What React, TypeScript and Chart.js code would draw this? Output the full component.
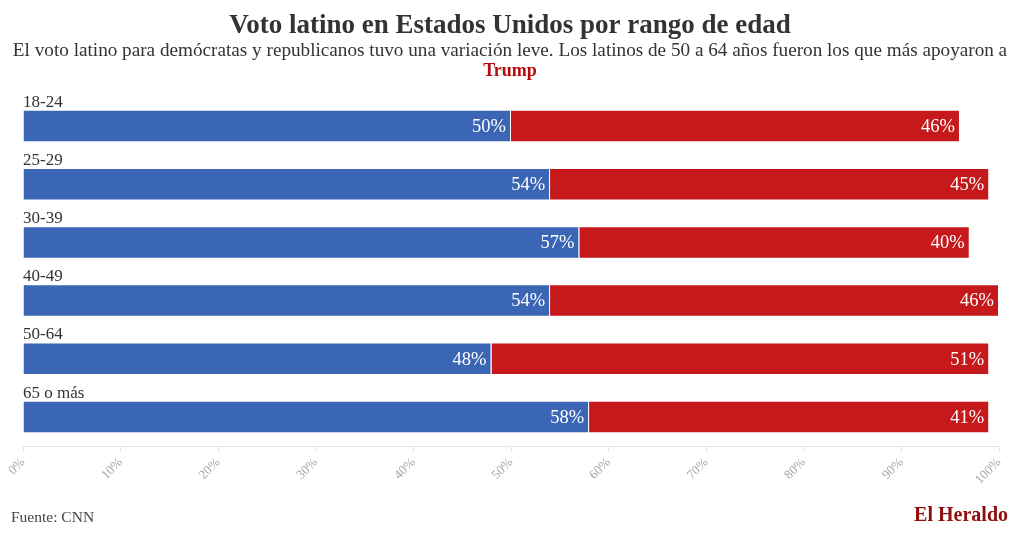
import React, { useEffect, useRef } from "react";
import { Chart, registerables } from "chart.js";

Chart.register(...registerables);

const categories = ["18-24", "25-29", "30-39", "40-49", "50-64", "65 o más"];
const democratas = [50, 54, 57, 54, 48, 58];
const republicanos = [46, 45, 40, 46, 51, 41];
const xTickValues = [0, 10, 20, 30, 40, 50, 60, 70, 80, 90, 100];

const titleText = "Voto latino en Estados Unidos por rango de edad";
const subtitleLine1 =
  "El voto latino para demócratas y republicanos tuvo una variación leve. Los latinos de 50 a 64 años fueron los que más apoyaron a";
const subtitleLine2 = "Trump";
const sourceText = "Fuente: CNN";
const brandText = "El Heraldo";

const FONT = "'Liberation Serif', 'DejaVu Serif', serif";
const BLUE = "#3b66b6";
const RED = "#c5191b";

const textPlugin = {
  id: "textPlugin",
  afterDraw(chart: any) {
    const ctx = chart.ctx as CanvasRenderingContext2D;
    const W = chart.width;
    ctx.save();
    ctx.textBaseline = "alphabetic";
    // title
    ctx.fillStyle = "#333333";
    ctx.textAlign = "center";
    ctx.font = `bold 27px ${FONT}`;
    ctx.fillText(titleText, W / 2, 33);
    ctx.font = `19.2px ${FONT}`;
    ctx.fillText(subtitleLine1, W / 2, 56);
    ctx.fillStyle = "#b8090c";
    ctx.font = `bold 18px ${FONT}`;
    ctx.fillText(subtitleLine2, W / 2, 76);
    // footer
    ctx.textAlign = "left";
    ctx.fillStyle = "#444444";
    ctx.font = `15.5px ${FONT}`;
    ctx.fillText(sourceText, 11, 522);
    ctx.textAlign = "right";
    ctx.fillStyle = "#8e0d0d";
    ctx.font = `bold 20px ${FONT}`;
    ctx.fillText(brandText, 1008, 521);
    ctx.restore();
  },
  afterDatasetsDraw(chart: any) {
    const ctx = chart.ctx as CanvasRenderingContext2D;
    ctx.save();
    const meta0 = chart.getDatasetMeta(0);
    ctx.textBaseline = "alphabetic";
    ctx.textAlign = "left";
    ctx.fillStyle = "#333333";
    ctx.font = `17px ${FONT}`;
    meta0.data.forEach((bar: any, i: number) => {
      const top = bar.y - bar.height / 2;
      ctx.fillText(chart.data.labels[i], chart.chartArea.left, top - 3);
    });
    ctx.fillStyle = "#ffffff";
    ctx.font = `18.5px ${FONT}`;
    ctx.textAlign = "right";
    ctx.textBaseline = "middle";
    chart.data.datasets.forEach((ds: any, di: number) => {
      const meta = chart.getDatasetMeta(di);
      meta.data.forEach((bar: any, i: number) => {
        ctx.fillText(ds.data[i] + "%", bar.x - 5, bar.y + 1);
      });
    });
    ctx.restore();
  },
};

export default function App() {
  const ref = useRef<HTMLCanvasElement | null>(null);
  useEffect(() => {
    if (!ref.current) return;
    const chart = new Chart(ref.current, {
      type: "bar",
      data: {
        labels: categories,
        datasets: [
          {
            label: "Demócratas",
            data: democratas,
            backgroundColor: BLUE,
            borderColor: "#ffffff",
            borderWidth: 1,
          },
          {
            label: "Republicanos",
            data: republicanos,
            backgroundColor: RED,
            borderColor: "#ffffff",
            borderWidth: 1,
          },
        ],
      },
      options: {
        indexAxis: "y",
        responsive: false,
        animation: false,
        devicePixelRatio: 1,
        layout: { padding: { top: 97, left: 23, right: 21, bottom: 44 } },
        datasets: { bar: { categoryPercentage: 1, barPercentage: 0.56 } },
        plugins: {
          legend: { display: false },
          tooltip: { enabled: false },
          title: { display: false },
        },
        scales: {
          x: {
            stacked: true,
            min: 0,
            max: 100,
            afterBuildTicks: (scale: any) => {
              scale.ticks = xTickValues.map((v) => ({ value: v }));
            },
            afterFit: (scale: any) => {
              scale.height = 50;
            },
            ticks: {
              autoSkip: false,
              maxRotation: 45,
              minRotation: 45,
              color: "#a6a6a6",
              font: { family: FONT, size: 13 },
              padding: 3,
              callback: (v: any) => v + "%",
            },
            grid: {
              drawOnChartArea: false,
              drawTicks: true,
              tickLength: 6,
              color: "#e6e6e6",
            },
            border: { display: true, color: "#e6e6e6" },
          },
          y: {
            stacked: true,
            display: false,
          },
        },
      },
      plugins: [textPlugin],
    });
    return () => chart.destroy();
  }, []);
  return (
    <div style={{ position: "fixed", left: 0, top: 0, width: 1020, height: 540, background: "#ffffff" }}>
      <canvas ref={ref} width={1020} height={540} style={{ display: "block" }} />
    </div>
  );
}
